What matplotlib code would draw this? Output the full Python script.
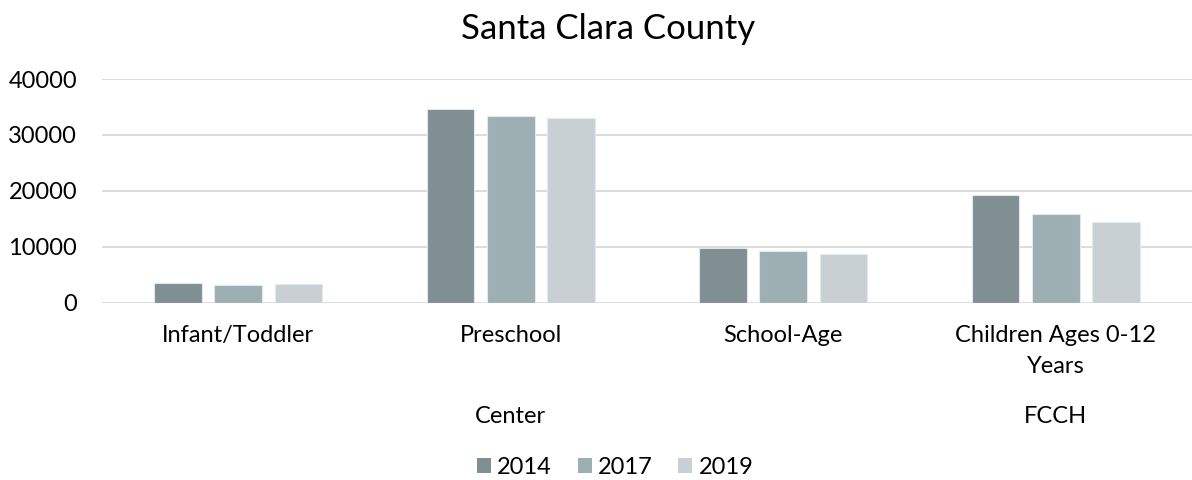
import numpy as np
import matplotlib
matplotlib.use("Agg")
import matplotlib.pyplot as plt
from matplotlib.patches import Patch

plt.rcParams['font.family'] = ['Lato', 'DejaVu Sans']

# data
categories = ["Infant/Toddler", "Preschool", "School-Age", "Children Ages 0-12\nYears"]
groups = ["Center", "FCCH"]
group_spans = [(0, 2), (3, 3)]
years = ["2014", "2017", "2019"]
v2014 = [3580, 34700, 9790, 19270]
v2017 = [3220, 33400, 9250, 15870]
v2019 = [3290, 33100, 8710, 14440]
colors = ["#7F8F92", "#9EAFB4", "#C8D0D3"]

fig = plt.figure(figsize=(11.92, 4.8), dpi=100)
ax = fig.add_axes([102 / 1192, 1 - 302.7 / 480, 1 - 102 / 1192, (302.7 - 79) / 480])

x = np.arange(len(categories))
step = 0.221
width = 0.175
for i, (vals, col) in enumerate(zip([v2014, v2017, v2019], colors)):
    ax.bar(x + (i - 1) * step, vals, width, color=col, edgecolor="#E3E8EA",
           linewidth=0.8, label=years[i], zorder=3)

ax.set_xlim(-0.5, len(categories) - 0.5)
ax.set_ylim(0, 40000)
ax.set_yticks(np.arange(0, 40001, 10000))
ax.yaxis.grid(True, color="#D9D9D9", linewidth=1.3, zorder=0)
ax.set_axisbelow(True)
for s in ax.spines.values():
    s.set_visible(False)
ax.tick_params(axis="both", length=0, labelsize=17, colors="black")
ax.tick_params(axis="y", pad=18)
ax.set_xticks(x)
ax.set_xticklabels(categories, fontsize=17, linespacing=1.6)
ax.tick_params(axis="x", pad=16)

# second level category labels
for g, (a, b) in zip(groups, group_spans):
    xc = (a + b) / 2
    ax.text(xc, -0.507, g, transform=ax.get_xaxis_transform(), ha="center",
            va="center", fontsize=17)

fig.text(608 / 1192, 1 - 29 / 480, "Santa Clara County", ha="center", va="center", fontsize=25)

handles = [Patch(facecolor=c, edgecolor="none") for c in colors]
fig.legend(handles, years, loc="center", bbox_to_anchor=(615 / 1192, 1 - 467 / 480),
           ncol=3, frameon=False, fontsize=17, handlelength=0.6, handleheight=0.6,
           handletextpad=0.25, columnspacing=1.1)

fig.savefig("out.png", dpi=100)
